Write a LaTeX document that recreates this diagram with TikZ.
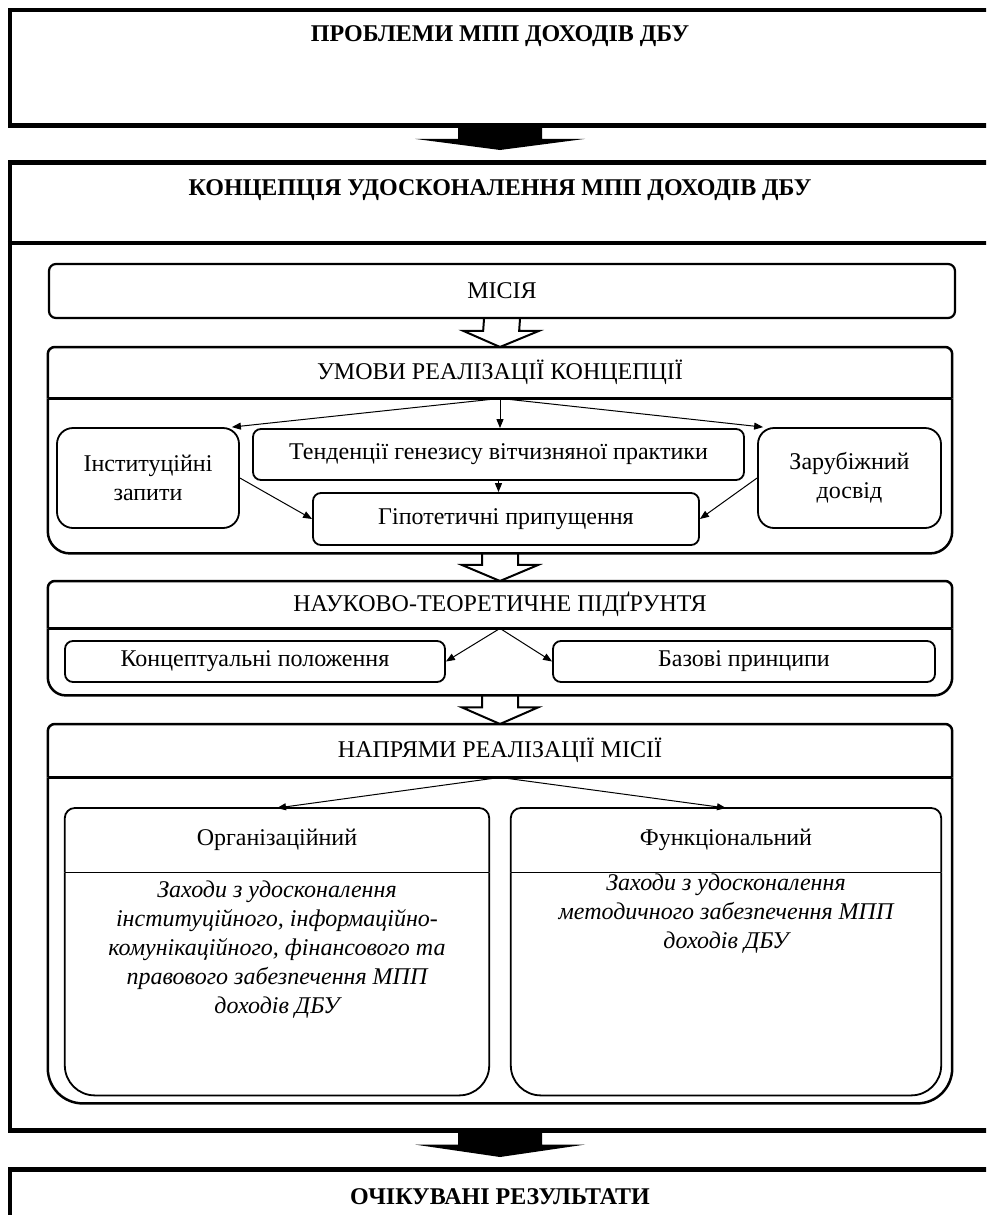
\documentclass[tikz,border=0pt]{standalone}
\usepackage{fontspec}
\setmainfont{Liberation Serif}
\usetikzlibrary{positioning, calc, backgrounds, arrows.meta}

\begin{document}
\begin{tikzpicture}[x=1pt, y=-1pt, font=\fontsize{24}{29}\selectfont,
	outerbox/.style={draw=black, line width=4.5pt, minimum width=980, inner sep=0pt},
	titletext/.style={font=\fontsize{24}{29}\selectfont\bfseries, inner sep=0pt},
	roundbox/.style={draw=black, line width=2.2pt, rounded corners=7pt, inner sep=0pt},
	grp/.style={inner sep=0pt},
	softbox/.style={draw=black, line width=1.8pt, rounded corners=16pt, align=center, inner sep=0pt},
	smallbox/.style={draw=black, line width=1.8pt, rounded corners=8pt, inner sep=0pt},
	bodytext/.style={font=\fontsize{24}{29}\selectfont\itshape, align=center, inner sep=0pt},
	conn/.style={line width=1pt, -{Triangle[length=9pt,width=7pt]}},
	hollowarrow/.style={draw=black, fill=white, line width=2pt},
	grpline/.style={line width=2.5pt},
	innerline/.style={line width=1.8pt}]
	
	\useasboundingbox (0,0) rectangle (986,1215);
	\clip (0,0) rectangle (986,1215);
	
	% Bloques exteriores
	\node[outerbox, minimum height=115, anchor=north] (problemy) at (500,8) {};
	\node[titletext] (problemyT) at (500,36) {ПРОБЛЕМИ МПП ДОХОДІВ ДБУ};
	
	\node[outerbox, minimum height=968, anchor=north] (koncepcia) at (500,160) {};
	\node[titletext] (koncepciaT) at (500,190) {КОНЦЕПЦІЯ УДОСКОНАЛЕННЯ МПП ДОХОДІВ ДБУ};
	\coordinate (divider) at (0,243);
	\draw[line width=4.5pt] (koncepcia.west |- divider) -- (koncepcia.east |- divider);
	
	\node[outerbox, minimum height=120, anchor=north] (ochikuvani) at (500,1167) {};
	\node[titletext] (ochikuvaniT) at (500,1197) {ОЧІКУВАНІ РЕЗУЛЬТАТИ};
	
	% Місія
	\node[roundbox, minimum width=906, minimum height=54] (misia) at (502,291) {МІСІЯ};
	
	% Групи
	\node[grp, minimum width=904, minimum height=206, anchor=north] (umovy) at (500,347) {};
	\node[grp, minimum width=904, minimum height=51, anchor=north] (umovyHead) at (umovy.north) {УМОВИ РЕАЛІЗАЦІЇ КОНЦЕПЦІЇ};
	
	\node[grp, minimum width=904, minimum height=114, anchor=north] (nauk) at (500,581) {};
	\node[grp, minimum width=904, minimum height=47, anchor=north] (naukHead) at (nauk.north) {НАУКОВО-ТЕОРЕТИЧНЕ ПІДҐРУНТЯ};
	
	\node[grp, minimum width=904, minimum height=379, anchor=north] (napr) at (500,724) {};
	\node[grp, minimum width=904, minimum height=53, anchor=north] (naprHead) at (napr.north) {НАПРЯМИ РЕАЛІЗАЦІЇ МІСІЇ};
	
	\foreach \g/\r in {umovy/22pt, nauk/18pt, napr/35pt} {
		\draw[grpline, rounded corners=7pt] (\g Head.south west) |- (\g.north) -| (\g Head.south east);
		\draw[grpline, rounded corners=\r] (\g Head.south west) |- (\g.south) -| (\g Head.south east);
		\draw[grpline] (\g Head.south west) -- (\g Head.south east);
	}
	
	% Умови реалізації
	\node[softbox, minimum width=182, minimum height=100] (instytut) at (148,478) {Інституційні\\запити};
	\node[smallbox, minimum width=491, minimum height=51] (tendencii) at (498.5,454.5) {Тенденції генезису вітчизняної практики};
	\node[smallbox, minimum width=386, minimum height=52] (hipotez) at (506,519) {Гіпотетичні припущення};
	\node[softbox, minimum width=183, minimum height=100] (zarub) at (849.5,478) {Зарубіжний\\досвід};
	
	\draw[conn] (umovyHead.south) -- ([xshift=-8]instytut.north east);
	\draw[conn] (umovyHead.south) -- (umovyHead.south |- tendencii.north);
	\draw[conn] (umovyHead.south) -- ([xshift=6]zarub.north west);
	\draw[conn] (tendencii.south) -- (tendencii.south |- hipotez.north);
	\draw[conn] (instytut.east) -- (hipotez.west);
	\draw[conn] (zarub.west) -- (hipotez.east);
	
	% Підґрунтя
	\node[smallbox, minimum width=380, minimum height=41] (koncept) at (255,661.5) {Концептуальні положення};
	\node[smallbox, minimum width=382, minimum height=41] (bazovi) at (744,661.5) {Базові принципи};
	
	\draw[conn] (naukHead.south) -- (koncept.east);
	\draw[conn] (naukHead.south) -- (bazovi.west);
	
	% Напрями
	\node[grp, minimum width=424, minimum height=287, anchor=north] (org) at (277,808) {};
	\node[grp, minimum width=424, minimum height=64, anchor=north] (orgHead) at (org.north) {Організаційний};
	\node[grp, minimum width=430, minimum height=287, anchor=north] (func) at (726,808) {};
	\node[grp, minimum width=430, minimum height=64, anchor=north] (funcHead) at (func.north) {Функціональний};
	
	\foreach \g in {org, func} {
		\draw[innerline, rounded corners=10pt] (\g Head.south west) |- (\g.north) -| (\g Head.south east);
		\draw[innerline, rounded corners=30pt] (\g Head.south west) |- (\g.south) -| (\g Head.south east);
		\draw[innerline] (\g Head.south west) -- (\g Head.south east);
	}
	
	\node[bodytext, anchor=north] (orgText) at ([yshift=-8]orgHead.south) {Заходи з удосконалення\\інституційного, інформаційно-\\комунікаційного, фінансового та\\правового забезпечення МПП\\доходів ДБУ};
	\node[bodytext, anchor=north] (funcText) at ([yshift=-1]funcHead.south) {Заходи з удосконалення\\методичного забезпечення МПП\\доходів ДБУ};
	
	\draw[conn] (naprHead.south) -- (orgHead.north);
	\draw[conn] (naprHead.south) -- (funcHead.north);
	
	% Стрілки між блоками
	\foreach \a/\b in {problemy/koncepcia, koncepcia/ochikuvani} {
		\fill ([xshift=-42]\a.south) -- ($([xshift=-42]\a.south)!0.35!([xshift=-42]\b.north)$) -- ($([xshift=-85]\a.south)!0.35!([xshift=-85]\b.north)$) -- ([yshift=10]\b.north) -- ($([xshift=85]\a.south)!0.35!([xshift=85]\b.north)$) -- ($([xshift=42]\a.south)!0.35!([xshift=42]\b.north)$) -- ([xshift=42]\a.south) -- cycle;
	}
	
	\begin{scope}[on background layer]
		\foreach \a/\b in {misia/umovy, umovy/nauk, nauk/napr} {
			\filldraw[hollowarrow] ([xshift=-18]\a.south) -- ($([xshift=-18]\a.south)!0.42!([xshift=-18]\b.north)$) -- ($([xshift=-38]\a.south)!0.42!([xshift=-38]\b.north)$) -- (\b.north) -- ($([xshift=38]\a.south)!0.42!([xshift=38]\b.north)$) -- ($([xshift=18]\a.south)!0.42!([xshift=18]\b.north)$) -- ([xshift=18]\a.south);
		}
	\end{scope}
	
\end{tikzpicture}
\end{document}
